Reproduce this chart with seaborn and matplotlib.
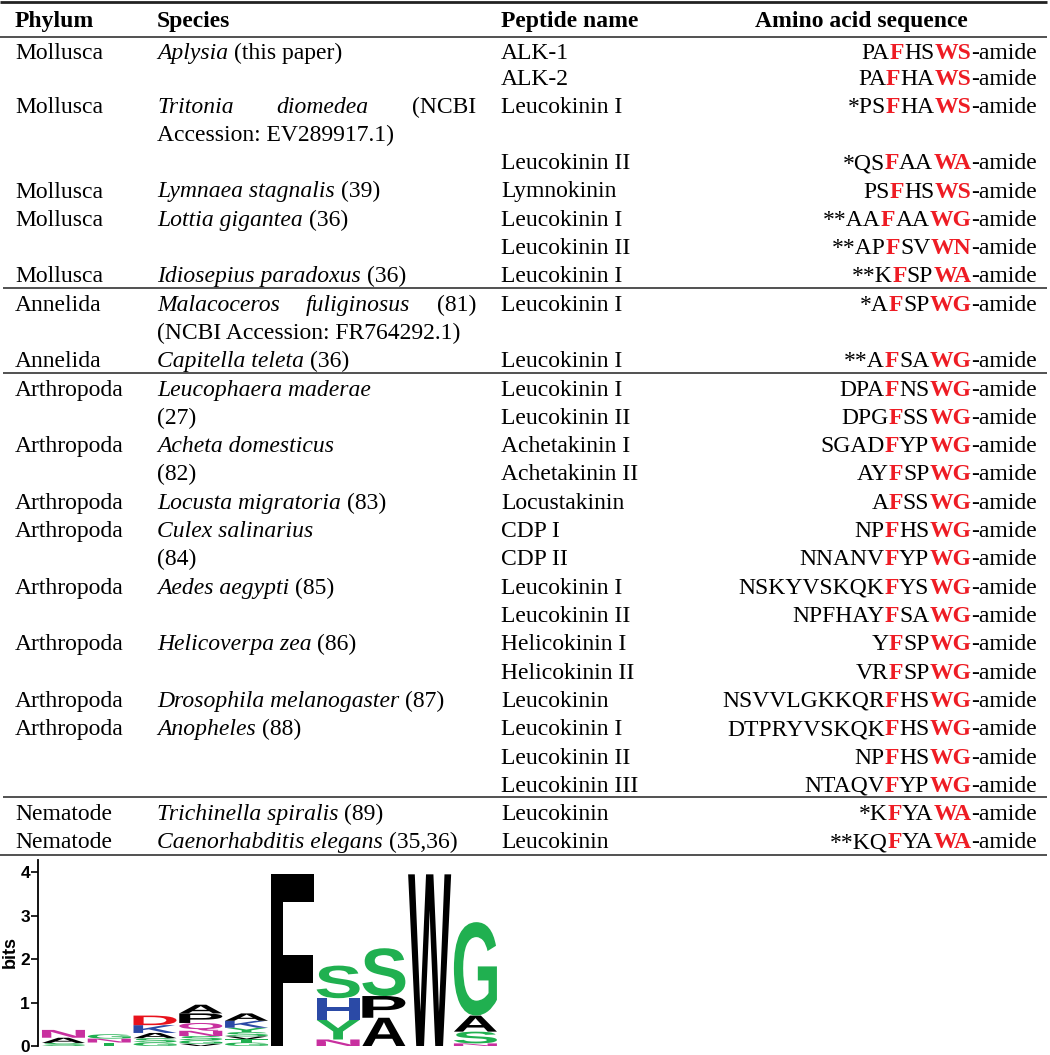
import matplotlib
matplotlib.use("Agg")
import matplotlib.pyplot as plt
import seaborn as sns
from matplotlib.textpath import TextPath
from matplotlib.patches import PathPatch
from matplotlib.font_manager import FontProperties
from matplotlib.transforms import Affine2D

# ---- table data ----
headers = ["Phylum", "Species", "Peptide name", "Amino acid sequence"]

phylum = ["Mollusca", "", "Mollusca", "", "", "Mollusca", "Mollusca", "", "Mollusca",
          "Annelida", "", "Annelida",
          "Arthropoda", "", "Arthropoda", "", "Arthropoda", "Arthropoda", "", "Arthropoda", "",
          "Arthropoda", "", "Arthropoda", "Arthropoda", "", "",
          "Nematode", "Nematode"]

species_it = ["Aplysia", "", "Tritonia diomedea", "", "", "Lymnaea stagnalis", "Lottia gigantea", "",
              "Idiosepius paradoxus",
              "Malacoceros fuliginosus", "", "Capitella teleta",
              "Leucophaera maderae", "", "Acheta domesticus", "", "Locusta migratoria",
              "Culex salinarius", "", "Aedes aegypti", "", "Helicoverpa zea", "",
              "Drosophila melanogaster", "Anopheles", "", "",
              "Trichinella spiralis", "Caenorhabditis elegans"]

species_ref = ["(this paper)", "", "(NCBI", "Accession: EV289917.1)", "", "(39)", "(36)", "", "(36)",
               "(81)", "(NCBI Accession: FR764292.1)", "(36)",
               "", "(27)", "", "(82)", "(83)", "", "(84)", "(85)", "", "(86)", "",
               "(87)", "(88)", "", "",
               "(89)", "(35,36)"]

justified_rows = [2, 9]

peptide = ["ALK-1", "ALK-2", "Leucokinin I", "", "Leucokinin II", "Lymnokinin", "Leucokinin I",
           "Leucokinin II", "Leucokinin I",
           "Leucokinin I", "", "Leucokinin I",
           "Leucokinin I", "Leucokinin II", "Achetakinin I", "Achetakinin II", "Locustakinin",
           "CDP I", "CDP II", "Leucokinin I", "Leucokinin II", "Helicokinin I", "Helicokinin II",
           "Leucokinin", "Leucokinin I", "Leucokinin II", "Leucokinin III",
           "Leucokinin", "Leucokinin"]

sequence = ["PAFHSWS", "PAFHAWS", "*PSFHAWS", "", "*QSFAAWA", "PSFHSWS", "**AAFAAWG",
            "**APFSVWN", "**KFSPWA",
            "*AFSPWG", "", "**AFSAWG",
            "DPAFNSWG", "DPGFSSWG", "SGADFYPWG", "AYFSPWG", "AFSSWG", "NPFHSWG", "NNANVFYPWG",
            "NSKYVSKQKFYSWG", "NPFHAYFSAWG", "YFSPWG", "VRFSPWG", "NSVVLGKKQRFHSWG",
            "DTPRYVSKQKFHSWG", "NPFHSWG", "NTAQVFYPWG",
            "*KFYAWA", "**KQFYAWA"]

group_breaks = [9, 12, 27]

# ---- sequence logo data (letters bottom -> top, heights in bits) ----
logo_letters = [["S", "A", "N"],
                ["T", "N", "G"],
                ["G", "S", "A", "K", "D"],
                ["V", "G", "S", "N", "Q", "P", "A"],
                ["G", "T", "V", "S", "Y", "K", "A"],
                ["F"],
                ["N", "Y", "H", "S"],
                ["A", "P", "S"],
                ["W"],
                ["N", "S", "A", "G"]]
logo_heights = [[0.07, 0.12, 0.18],
                [0.08, 0.09, 0.10],
                [0.08, 0.10, 0.12, 0.18, 0.22],
                [0.05, 0.08, 0.10, 0.12, 0.18, 0.22, 0.20],
                [0.08, 0.08, 0.06, 0.10, 0.10, 0.16, 0.17],
                [3.95],
                [0.15, 0.45, 0.50, 0.75],
                [0.65, 0.50, 1.10],
                [3.95],
                [0.06, 0.27, 0.37, 2.15]]

GREEN, BLUE, RED, PINK, BLACK = "#20b050", "#2b4aa6", "#e8121c", "#c8309f", "#000000"
aa_color = {}
for c in "GSTYC":
    aa_color[c] = GREEN
for c in "NQ":
    aa_color[c] = PINK
for c in "KRH":
    aa_color[c] = BLUE
for c in "DE":
    aa_color[c] = RED
for c in "AVLIPWFM":
    aa_color[c] = BLACK

sns.set_style("white")
plt.rcParams['font.family'] = ['Liberation Serif', 'DejaVu Serif']
plt.rcParams['text.color'] = 'black'
plt.rcParams['ytick.color'] = 'black'

fig = plt.figure(figsize=(10.5, 10.55), dpi=100)
ax = fig.add_axes([0, 0, 1, 1])
ax.set_xlim(0, 1050)
ax.set_ylim(1055, 0)
ax.axis('off')
renderer = fig.canvas.get_renderer()

FS = 17
SEQ_RED = "#ee1c24"


def raw_width(s, **kw):
    t = ax.text(0, 0, s, fontsize=FS, **kw)
    w = t.get_window_extent(renderer).width
    t.remove()
    return w


def width(s, **kw):
    # advance width: bracket the string with a neutral glyph on both sides
    return raw_width("I" + s + "I", **kw) - raw_width("II", **kw)


def put(x, y, s, **kw):
    ax.text(x, y, s, fontsize=FS, va='baseline', ha='left', **kw)


space = width(" ")
row_center = [48 + 28.3 * i for i in range(len(phylum))]
row_center[0] += 3
row_center[1] += 1


def row_base(i):
    return row_center[i] + 8


# header
put(15, 27, headers[0], weight='bold')
put(157, 27, headers[1], weight='bold')
put(501, 27, headers[2], weight='bold')
ax.text(861, 27, headers[3], fontsize=FS, va='baseline', ha='center', weight='bold')

# rules
ax.hlines(2, 0, 1047, color='#222222', lw=2.0)
ax.hlines(37, 0, 1047, color='#333333', lw=1.2)
for b in group_breaks:
    ax.hlines(48 + 28.3 * b - 15, 3, 1047, color='#333333', lw=1.2)
ax.hlines(48 + 28.3 * 28 + 15, 0, 1047, color='#333333', lw=1.2)


def draw_seq(s, y, right=1037):
    # F and the C-terminal W-x pair are highlighted in red bold
    pieces = [(s[:-5], 'black', 'normal'), (s[-5], SEQ_RED, 'bold'),
              (s[-4:-2], 'black', 'normal'), (s[-2:], SEQ_RED, 'bold'),
              ("-amide", 'black', 'normal')]
    ws = [width(p, weight=wt) if p else 0 for p, c, wt in pieces]
    x = right - sum(ws)
    for (p, c, wt), wd in zip(pieces, ws):
        if p:
            put(x, y, p, color=c, weight=wt)
        x += wd


for i in range(len(phylum)):
    y = row_base(i)
    if phylum[i]:
        put(15, y, phylum[i])

    it, ref = species_it[i], species_ref[i]
    if i in justified_rows:
        words = [(w, 'italic') for w in it.split()] + [(ref, 'normal')]
        ws = [width(w, style=st) for w, st in words]
        gap = (476 - 157 - sum(ws)) / (len(words) - 1)
        x = 157
        for (w, st), wd in zip(words, ws):
            put(x, y, w, style=st)
            x += wd + gap
    else:
        x = 157
        if it:
            put(x, y, it, style='italic')
            x += width(it, style='italic') + space
        if ref:
            put(x, y, ref)

    if peptide[i]:
        put(501, y, peptide[i])

    if sequence[i]:
        draw_seq(sequence[i], y)

# ---- sequence logo ----
lax = fig.add_axes([38.3 / 1050, 9 / 1055, 460 / 1050, 186 / 1055])
lax.patch.set_alpha(0)
lax.set_xlim(0.45, 10.5)
lax.set_ylim(0, 4.28)
logo_font = FontProperties(family='Liberation Sans', weight='bold')

for k, (letters, heights) in enumerate(zip(logo_letters, logo_heights), start=1):
    y0 = 0
    for ch, h in zip(letters, heights):
        tp = TextPath((0, 0), ch, size=1, prop=logo_font)
        bb = tp.get_extents()
        tr = (Affine2D().translate(-bb.x0, -bb.y0)
              .scale(0.94 / bb.width, h / bb.height)
              .translate(k - 0.47, y0))
        lax.add_patch(PathPatch(tr.transform_path(tp), fc=aa_color[ch], ec='none', lw=0))
        y0 += h

lax.set_xticks([])
lax.set_yticks([0, 1, 2, 3, 4])
lax.set_yticklabels(["0", "1", "2", "3", "4"], fontweight='bold',
                    family='Liberation Sans', fontsize=12.5, color='black')
lax.tick_params(axis='y', direction='out', length=5, width=1.2, pad=1, left=True, colors='black')
sns.despine(ax=lax, bottom=True)
lax.spines['left'].set_linewidth(1.3)
lax.spines['left'].set_color('black')
fig.text(10 / 1050, 1 - 952 / 1055, "bits", rotation=90, ha='center', va='center',
         fontweight='bold', family='Liberation Sans', fontsize=13)

fig.savefig("out.png", dpi=100)
